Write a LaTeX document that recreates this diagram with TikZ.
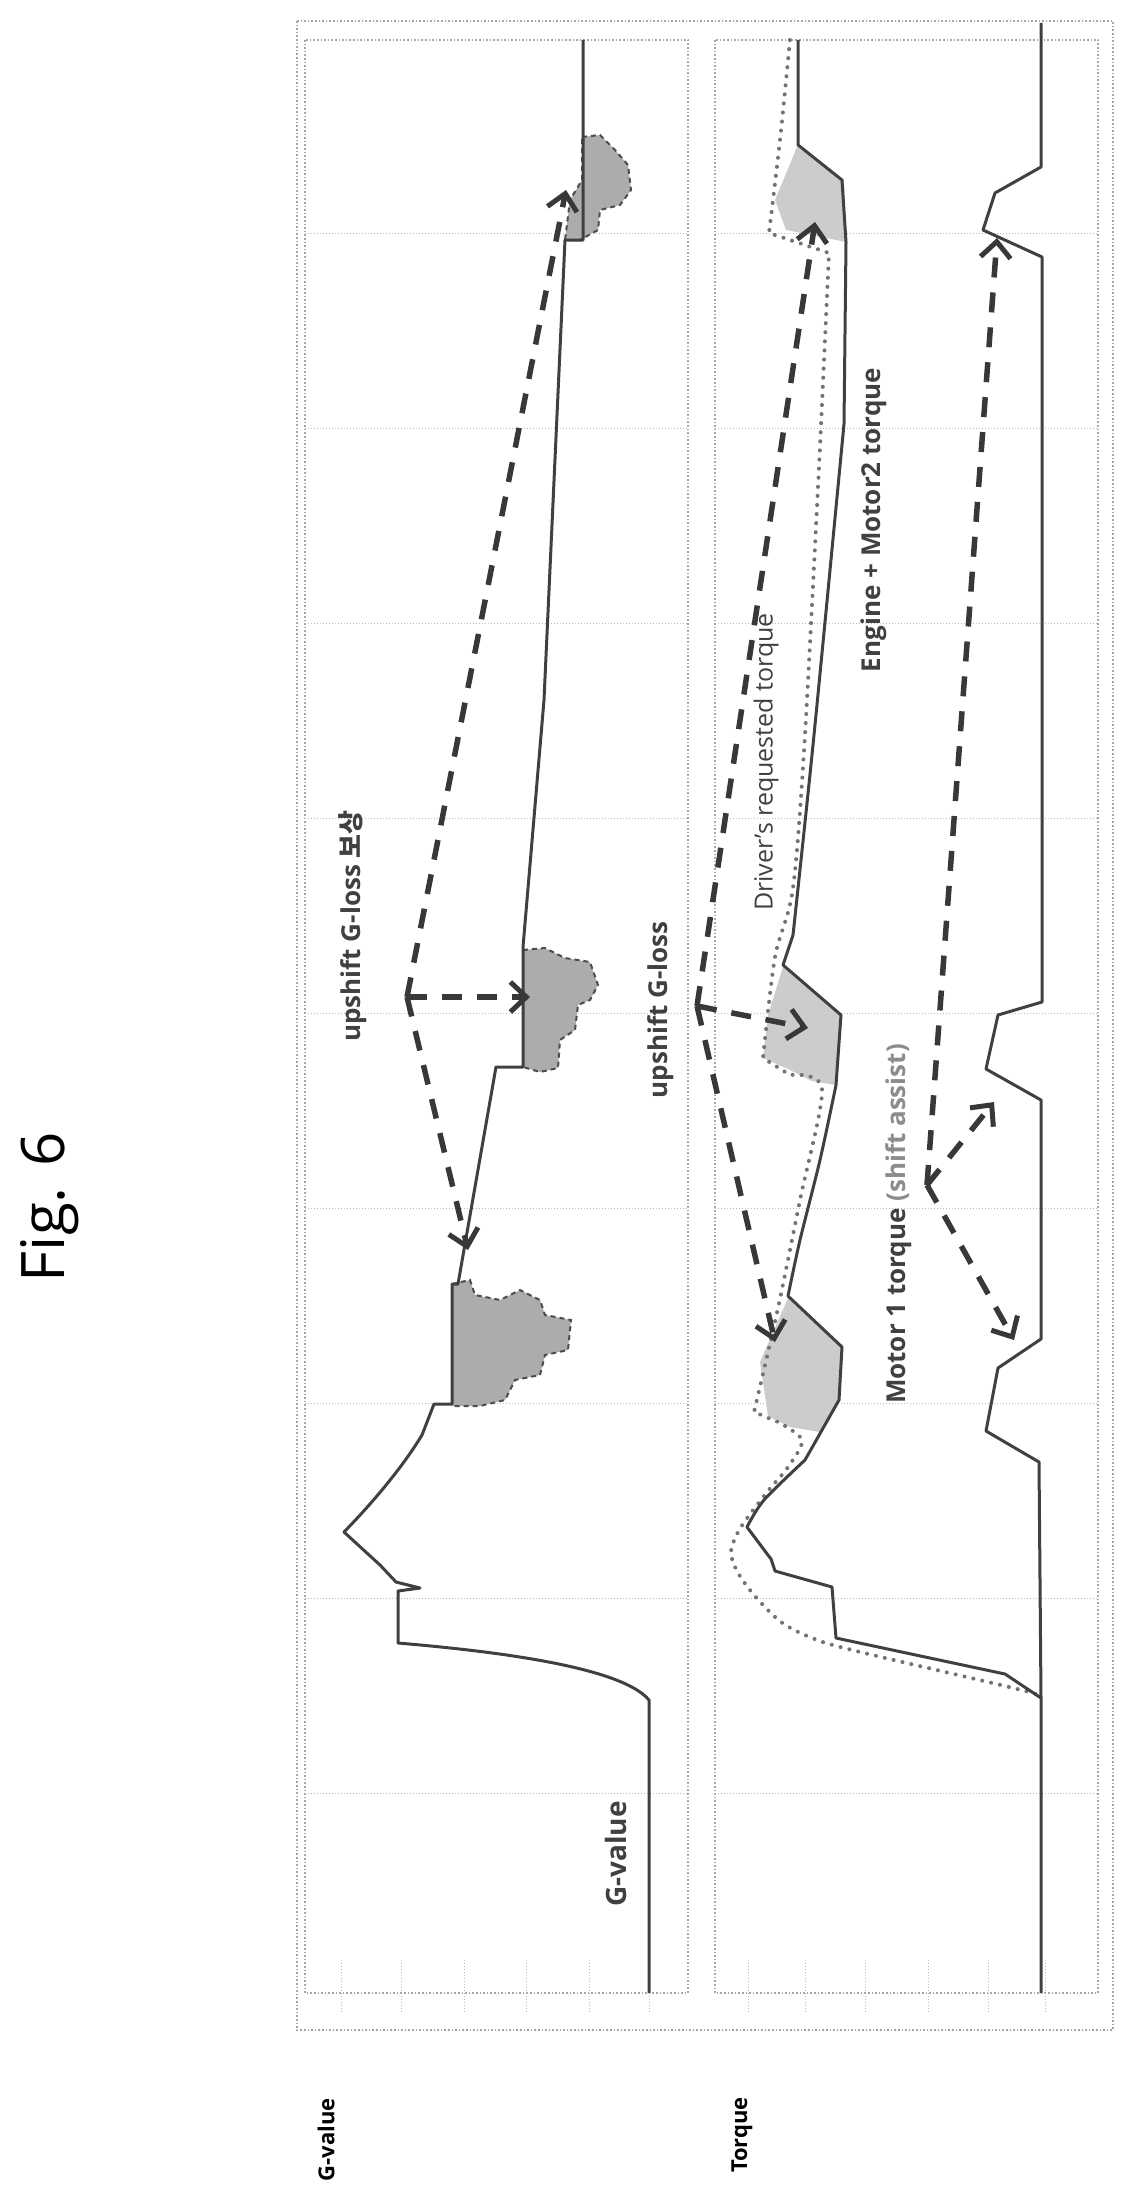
\documentclass[tikz,border=0pt]{standalone}
\usepackage{fontspec}
\setmainfont{Open Sans}
\newfontfamily\cjk{Noto Sans CJK KR}
\usetikzlibrary{arrows.meta}

\tikzset{
  frame/.style={gray!70, line width=1.6pt, dotted},
  grid line/.style={gray!55, line width=1pt, dotted},
  curve/.style={black!75, line width=3pt, line join=round},
  request/.style={black!55, line width=4pt, dash pattern=on 0.1pt off 9pt, line cap=round},
  gloss/.style={black!78, line width=5.5pt, dash pattern=on 20pt off 15pt,
    -{Straight Barb[length=16pt,width=30pt,line width=5pt]}},
  blob/.style={fill=gray!65, draw=black!70, line width=2pt, dash pattern=on 5pt off 4pt},
  area/.style={fill=gray!40},
  label/.style={rotate=90, text=black!75, font=\fontsize{26}{30}\selectfont\bfseries, inner sep=0pt}
}

\begin{document}
\begin{tikzpicture}[x=1pt, y=-1pt]
    \useasboundingbox (0,0) rectangle (1128,2189);

    % Frames
    \draw[frame] (297,21) rectangle (1113,2030);
    \draw[frame] (305,40) rectangle (688,1993);
    \draw[frame] (715,40) rectangle (1098,1993);

    % Grid
    \foreach \y in {233,428,623,818,1013,1208,1403,1598,1793} {
        \draw[grid line] (305,\y) -- (688,\y);
        \draw[grid line] (715,\y) -- (1098,\y);
    }
    \foreach \x in {341,401,464,526,589,649} \draw[grid line] (\x,1960) -- (\x,2012);
    \foreach \x in {748,805,865,928,988,1045} \draw[grid line] (\x,1960) -- (\x,2012);

    % Gray areas (G-value panel)
    \draw[blob] (452,1284) -- (470,1280) -- (475,1295) -- (500,1300) -- (520,1290) -- (540,1300)
        -- (545,1315) -- (571,1320) -- (568,1350) -- (545,1355) -- (540,1375) -- (515,1380)
        -- (505,1400) -- (480,1406) -- (452,1406) -- cycle;
    \draw[blob] (523,950) -- (545,948) -- (565,958) -- (590,962) -- (598,985) -- (590,1000)
        -- (578,1005) -- (575,1030) -- (560,1040) -- (558,1068) -- (540,1072) -- (523,1067) -- cycle;
    \draw[blob] (582,137) -- (600,135) -- (615,150) -- (628,165) -- (631,190) -- (620,205)
        -- (600,210) -- (598,230) -- (580,240) -- (565,240) -- (570,200) -- (582,180) -- cycle;

    % Gray areas (torque panel)
    \fill[area] (797,147) -- (844,180) -- (846,242) -- (786,230) -- (775,200) -- cycle;
    \fill[area] (783,967) -- (841,1015) -- (836,1085) -- (812,1081) -- (788,1069) -- (763,1058) -- (768,1015) -- cycle;
    \fill[area] (788,1298) -- (842,1347) -- (838,1400) -- (820,1432) -- (790,1427) -- (768,1416) -- (760,1362) -- cycle;

    % G-value curve
    \draw[curve] (649,1993) -- (649,1700) .. controls (620,1665) and (480,1650) .. (398,1643)
        -- (398,1591) -- (420,1588) -- (396,1582) -- (380,1565) -- (344,1532)
        .. controls (385,1490) and (410,1455) .. (422,1435) -- (434,1404) -- (452,1404)
        -- (452,1284) -- (458,1284) -- (496,1067) -- (523,1067) -- (523,947)
        -- (544,700) -- (565,240) -- (583,240) -- (583,40);

    % Driver's requested torque
    \draw[request] plot[smooth, tension=0.5] coordinates {(790,40) (780,140) (769,233)}
        -- (781,237) -- (829,253)
        -- plot[smooth] coordinates {(820,447) (805,735) (793,888) (775,957) (763,1058)}
        -- plot[smooth] coordinates {(790,1075) (822,1089) (800,1200) (778,1308) (754,1412)}
        -- plot[smooth] coordinates {(778,1422) (802,1440) (788,1467) (768,1491) (741,1527) (731,1551)
            (737,1571) (754,1595) (781,1622) (812,1638) (852,1650) (1005,1686) (1036,1694)};

    % Engine + Motor2 torque
    \draw[curve] (798,40) -- (798,145) -- (842,180) -- (846,242)
        -- plot[smooth] coordinates {(844,424) (814,735) (793,935)}
        -- (783,965) -- (841,1015)
        -- plot[smooth] coordinates {(836,1085) (820,1160) (800,1240) (788,1296)}
        -- (842,1347) -- (839,1400)
        -- plot[smooth] coordinates {(805,1460) (764,1500) (747,1527)}
        -- (771,1559) -- (775,1571) -- (832,1587) -- (836,1638) -- (1005,1674) -- (1041,1698) -- (1041,1993);

    % Motor 1 torque
    \draw[curve] (1041,23) -- (1041,167) -- (995,193) -- (983,230) -- (1042,257) -- (1042,1002)
        -- (998,1015) -- (986,1069) -- (1041,1100) -- (1041,1339) -- (998,1368) -- (986,1431)
        -- (1039,1462) -- (1041,1698);

    % Arrow points
    \coordinate (gApex) at (407,997);
    \coordinate (gLow) at (468,1250);
    \coordinate (gMid) at (530,997);
    \coordinate (gTop) at (566,190);
    \coordinate (tApex) at (697,1006);
    \coordinate (tTop) at (815,222);
    \coordinate (tMid) at (808,1028);
    \coordinate (tLow) at (775,1342);
    \coordinate (mApex) at (927,1185);
    \coordinate (mTop) at (997,238);
    \coordinate (mMid) at (994,1102);
    \coordinate (mLow) at (1014,1340);

    % Dashed arrows
    \draw[gloss] (gApex) -- (gLow);
    \draw[gloss] (gApex) -- (gMid);
    \draw[gloss] (gApex) -- (gTop);
    \draw[gloss] (tApex) -- (tTop);
    \draw[gloss] (tApex) -- (tMid);
    \draw[gloss] (tApex) -- (tLow);
    \draw[gloss] (mApex) -- (mTop);
    \draw[gloss] (mApex) -- (mMid);
    \draw[gloss] (mApex) -- (mLow);

    % Labels
    \node[label] (gLoss) at (353,926) {upshift G-loss {\cjk 보상}};
    \node[label] (tLoss) at (661,1010) {upshift G-loss};
    \node[label, font=\fontsize{25}{30}\selectfont] (driver) at (766,762) {Driver's requested torque};
    \node[label] (engine) at (874,520) {Engine + Motor2 torque};
    \node[label] (motor) at (899,1224) {Motor 1 torque {\color{black!45}(shift assist)}};
    \node[label, font=\fontsize{28}{32}\selectfont\bfseries] (gval) at (616,1854) {G-value};

    \node[rotate=90, font=\fontsize{60}{70}\selectfont, inner sep=0pt] (fig) at (50,1207) {Fig. 6};
    \node[label, text=black, font=\fontsize{22}{26}\selectfont\bfseries] (axisG) at (326,2140) {G-value};
    \node[label, text=black, font=\fontsize{22}{26}\selectfont\bfseries] (axisT) at (742,2135) {Torque};
\end{tikzpicture}
\end{document}
